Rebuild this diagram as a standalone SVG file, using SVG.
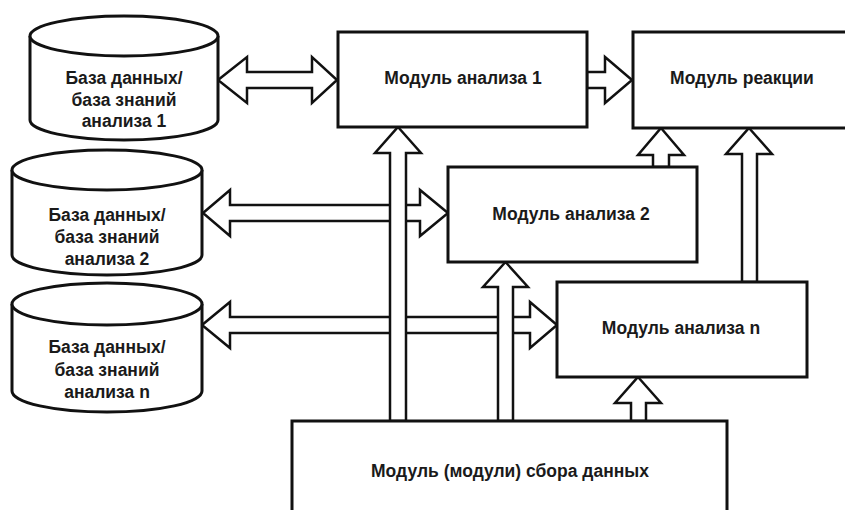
<svg xmlns="http://www.w3.org/2000/svg" width="845" height="510" viewBox="0 0 845 510">
<style>
.bg{fill:#ffffff}
.box{fill:#ffffff;stroke:#111111;stroke-width:3}
.cyl{fill:#ffffff;stroke:#111111;stroke-width:3}
.arr{fill:#ffffff;stroke:#111111;stroke-width:2.5;stroke-linejoin:miter}
.t{font-family:"Liberation Sans",Arial,sans-serif;font-weight:bold;font-size:17.5px;fill:#1a1a1a;text-anchor:middle}
</style>
<rect class="bg" x="0" y="0" width="845" height="510"/>
<g id="connectors">
  <polygon class="arr" points="218,80 247,57 247,72 312,72 312,57 337,80 312,103 312,88 247,88 247,103"/>
  <polygon class="arr" points="587,72 605,72 605,57 632,80 605,103 605,88 587,88"/>
  <polygon class="arr" points="203,213 230,190 230,205 420,205 420,190 448,213 420,236 420,221 230,221 230,236"/>
  <polygon class="arr" points="202,325 230,302 230,317 530,317 530,302 557,325 530,348 530,333 230,333 230,348"/>
  <polygon class="arr" points="398,127 421,153 406,153 406,421 390,421 390,153 375,153"/>
  <polygon class="arr" points="505.5,262 528,287 513,287 513,421 498,421 498,287 483,287"/>
  <polygon class="arr" points="638,377 661,403 646,403 646,421 631,421 631,403 615,403"/>
  <polygon class="arr" points="661,128 684,155 669,155 669,167 653,167 653,155 638,155"/>
  <polygon class="arr" points="749,128 772,154 757,154 757,282 742,282 742,154 726,154"/>
</g>
<g id="db1">
  <path class="cyl" d="M30,36 V120 A94,20 0 0 0 218,120 V36"/>
  <ellipse class="cyl" cx="124" cy="36" rx="94" ry="20"/>
  <text class="t" x="124" y="84">База данных/</text>
  <text class="t" x="124" y="106">база знаний</text>
  <text class="t" x="124" y="127">анализа 1</text>
</g>
<g id="db2">
  <path class="cyl" d="M12,170 V255 A95,20 0 0 0 202,255 V170"/>
  <ellipse class="cyl" cx="107" cy="170" rx="95" ry="20"/>
  <text class="t" x="107" y="221">База данных/</text>
  <text class="t" x="107" y="243">база знаний</text>
  <text class="t" x="107" y="265">анализа 2</text>
</g>
<g id="dbn">
  <path class="cyl" d="M12,304 V391 A95,21 0 0 0 202,391 V304"/>
  <ellipse class="cyl" cx="107" cy="304" rx="95" ry="21"/>
  <text class="t" x="107" y="353">База данных/</text>
  <text class="t" x="107" y="376">база знаний</text>
  <text class="t" x="107" y="398">анализа n</text>
</g>
<g id="analysis1">
  <rect class="box" x="338" y="32" width="249" height="95"/>
  <text class="t" x="463" y="84">Модуль анализа 1</text>
</g>
<g id="reaction">
  <rect class="box" x="633" y="32" width="240" height="96"/>
  <text class="t" x="742" y="84">Модуль реакции</text>
</g>
<g id="analysis2">
  <rect class="box" x="448" y="167" width="249" height="95"/>
  <text class="t" x="571" y="220">Модуль анализа 2</text>
</g>
<g id="analysisn">
  <rect class="box" x="557" y="282" width="250" height="95"/>
  <text class="t" x="681" y="334">Модуль анализа n</text>
</g>
<g id="collector">
  <rect class="box" x="292" y="421" width="435" height="110"/>
  <text class="t" x="510" y="477">Модуль (модули) сбора данных</text>
</g>
</svg>
